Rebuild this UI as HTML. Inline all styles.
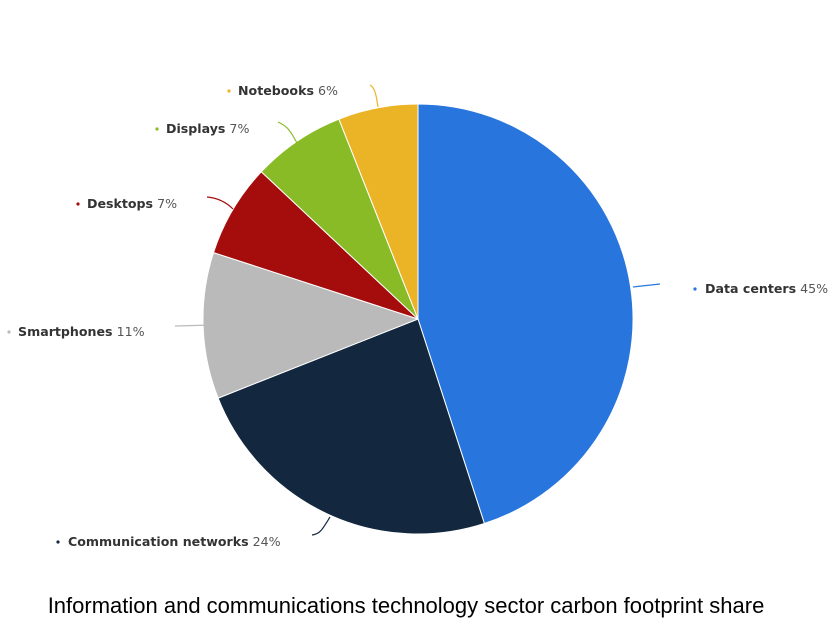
<!DOCTYPE html>
<html><head><meta charset="utf-8"><style>
html,body{margin:0;padding:0;background:#fff;width:828px;height:620px;overflow:hidden}
svg text{font-family:"DejaVu Sans","Liberation Sans",sans-serif;font-size:12.6px}
.n{font-weight:bold;fill:#333}
.p{fill:#555}
</style></head><body>
<svg width="828" height="620" viewBox="0 0 828 620" xmlns="http://www.w3.org/2000/svg">
<g stroke="#fff" stroke-width="1" stroke-linejoin="round">
<path d="M418,319 L418,104 A215,215 0 0 1 484.4,523.5 Z" fill="#2876dd"/>
<path d="M418,319 L484.4,523.5 A215,215 0 0 1 218.1,398.1 Z" fill="#13283f"/>
<path d="M418,319 L218.1,398.1 A215,215 0 0 1 213.5,252.6 Z" fill="#bababa"/>
<path d="M418,319 L213.5,252.6 A215,215 0 0 1 261.3,171.8 Z" fill="#a50d0d"/>
<path d="M418,319 L261.3,171.8 A215,215 0 0 1 338.9,119.1 Z" fill="#88bb26"/>
<path d="M418,319 L338.9,119.1 A215,215 0 0 1 418,104 Z" fill="#ebb426"/>
</g>
<g fill="none" stroke-width="1.2">
<path d="M633,287 L660,284" stroke="#2876dd"/>
<path d="M330,517 C322,530 320,534 312,535" stroke="#13283f"/>
<path d="M213,325 L175,326" stroke="#bababa"/>
<path d="M233,209 C226,202 218,198 207,197" stroke="#a50d0d"/>
<path d="M297,143 C290,130 287,126 278,122" stroke="#88bb26"/>
<path d="M378,107 C376,94 375,88 370,85" stroke="#ebb426"/>
</g>
<circle cx="695" cy="289" r="1.6" fill="#2876dd"/>
<text x="705" y="293"><tspan class="n">Data centers</tspan><tspan class="p"> 45%</tspan></text>
<circle cx="58" cy="542" r="1.6" fill="#13283f"/>
<text x="68" y="546"><tspan class="n">Communication networks</tspan><tspan class="p"> 24%</tspan></text>
<circle cx="9" cy="332" r="1.6" fill="#bababa"/>
<text x="18" y="336"><tspan class="n">Smartphones</tspan><tspan class="p"> 11%</tspan></text>
<circle cx="78" cy="204" r="1.6" fill="#a50d0d"/>
<text x="87" y="208"><tspan class="n">Desktops</tspan><tspan class="p"> 7%</tspan></text>
<circle cx="157" cy="129" r="1.6" fill="#88bb26"/>
<text x="166" y="133"><tspan class="n">Displays</tspan><tspan class="p"> 7%</tspan></text>
<circle cx="229" cy="91" r="1.6" fill="#ebb426"/>
<text x="238" y="95"><tspan class="n">Notebooks</tspan><tspan class="p"> 6%</tspan></text>
<text x="406" y="613" text-anchor="middle" style="font-family:'Liberation Sans',sans-serif;font-size:22px;fill:#000">Information and communications technology sector carbon footprint share</text>
</svg>
</body></html>
